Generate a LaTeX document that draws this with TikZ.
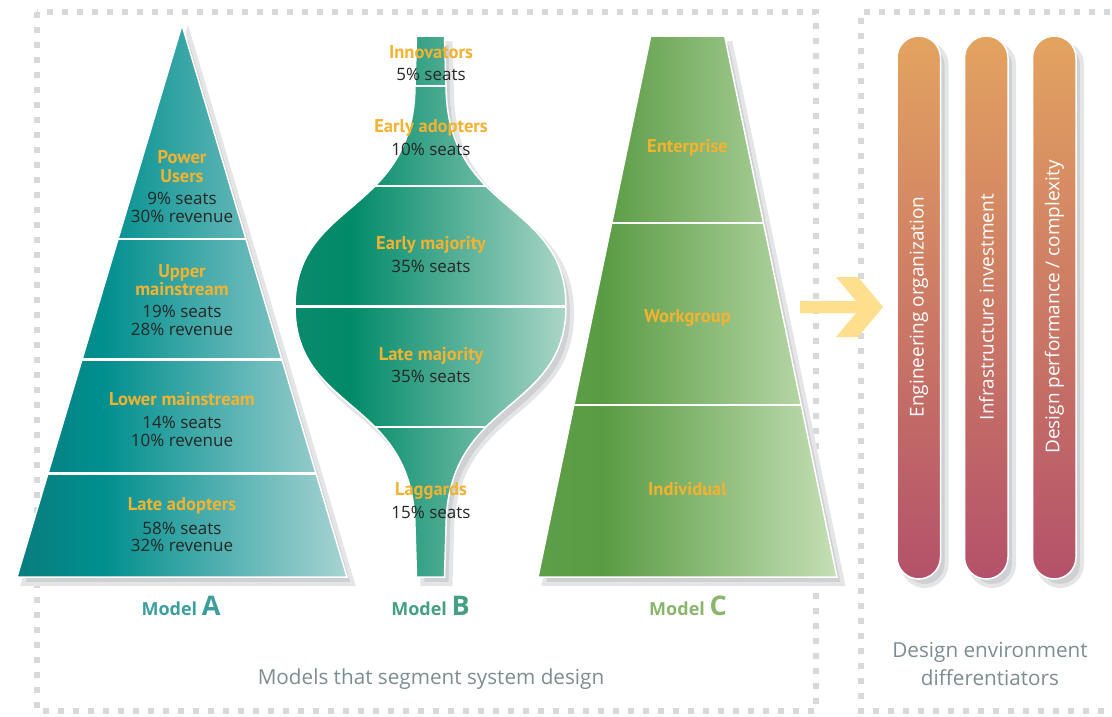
\documentclass[tikz,border=0pt]{standalone}
\usepackage{fontspec}
\setmainfont{PT Sans}
\newfontfamily\figfont{Open Sans}
\usetikzlibrary{calc}

\definecolor{dashgray}{HTML}{D6D8D9}
\definecolor{shadowgray}{HTML}{CED0D1}
\definecolor{labelgold}{HTML}{F4B231}
\definecolor{figtext}{HTML}{262626}
\definecolor{captiongray}{HTML}{7D8D92}
\definecolor{modelAc}{HTML}{3D9EA0}
\definecolor{modelBc}{HTML}{45A083}
\definecolor{modelCc}{HTML}{89B66C}
\definecolor{arrowyellow}{HTML}{FDDF8E}
\definecolor{pilltop}{HTML}{E3A360}
\definecolor{pillbottom}{HTML}{B4516A}
% gradient stops for the three models
\definecolor{tA1}{HTML}{0A7C7E}
\definecolor{tA2}{HTML}{008F8E}
\definecolor{tA3}{HTML}{A8D3D3}
\definecolor{tB1}{HTML}{0B8A6C}
\definecolor{tB2}{HTML}{008A68}
\definecolor{tB3}{HTML}{AAD5C6}
\definecolor{tC1}{HTML}{5D9E48}
\definecolor{tC2}{HTML}{5A9C44}
\definecolor{tC3}{HTML}{C5DFB5}

\pgfdeclarehorizontalshading{shadeA}{100bp}{color(0bp)=(tA1); color(25bp)=(tA1); color(38bp)=(tA2); color(75bp)=(tA3); color(100bp)=(tA3)}
\pgfdeclarehorizontalshading{shadeB}{100bp}{color(0bp)=(tB1); color(25bp)=(tB1); color(35bp)=(tB2); color(75bp)=(tB3); color(100bp)=(tB3)}
\pgfdeclarehorizontalshading{shadeC}{100bp}{color(0bp)=(tC1); color(25bp)=(tC1); color(36bp)=(tC2); color(75bp)=(tC3); color(100bp)=(tC3)}

% outlines of the three models
\newcommand\outlineA{(182,25) -- (347,577) -- (17,577) -- cycle}
\newcommand\outlineB{(416.5,36) -- (444.5,36) -- (446,86)
  .. controls (447,215) and (566,200) .. (566,306.5)
  .. controls (566,413) and (447,398) .. (446,527)
  -- (444.5,577) -- (416.5,577) -- (415,527)
  .. controls (414,398) and (295,413) .. (295,306.5)
  .. controls (295,200) and (414,215) .. (415,86) -- cycle}
\newcommand\outlineC{(650.7,36) -- (724.7,36) -- (837,577) -- (538,577) -- cycle}
\newcommand\pill[1]{(#1,36) rectangle ++(43.5,543)}

\tikzset{
  dashbox/.style={draw=dashgray, line width=5.5pt, dash pattern=on 6pt off 9pt},
  dropshadow/.style={fill=shadowgray, draw=shadowgray!55, line width=4pt},
  divider/.style={draw=white, line width=2.6pt},
  rim/.style={draw=white, line width=1.5pt},
  title/.style={anchor=base, inner sep=0pt, text=labelgold,
    font=\fontsize{18.5}{21}\selectfont\bfseries},
  figure/.style={anchor=base, inner sep=0pt, text=figtext,
    font=\figfont\fontsize{17}{18}\selectfont},
  modellabel/.style={anchor=base, inner sep=0pt, font=\figfont\bfseries},
  caption/.style={anchor=base, inner sep=0pt, text=captiongray,
    font=\figfont\fontsize{20.7}{24}\selectfont},
  pilltext/.style={rotate=90, inner sep=0pt, text=white,
    font=\figfont\fontsize{19}{22}\selectfont},
}

\begin{document}
\begin{tikzpicture}[x=1pt,y=-1pt]
\useasboundingbox (0,0) rectangle (1112,716);
\fill[white] (0,0) rectangle (1112,716);

% dotted frames
\draw[dashbox] (37,12) rectangle (816,711);
\draw[dashbox] (1125,12) -- (861,12) -- (861,711) -- (1125,711);

% ---------- Model A ----------
\path[dropshadow, shift={(6,7)}] \outlineA;
\path[shading=shadeA] \outlineA;
\begin{scope}
  \clip \outlineA;
  \draw[divider] (0,239) -- (400,239);
  \draw[divider] (0,359.5) -- (400,359.5);
  \draw[divider] (0,473.5) -- (400,473.5);
\end{scope}
\path[rim] \outlineA;

% ---------- Model B ----------
\path[dropshadow, shift={(6,7)}] \outlineB;
\path[shading=shadeB] \outlineB;
\begin{scope}
  \clip \outlineB;
  \draw[divider] (280,86) -- (600,86);
  \draw[divider] (280,186) -- (600,186);
  \draw[divider] (280,306.5) -- (600,306.5);
  \draw[divider] (280,427) -- (600,427);
\end{scope}
\path[rim] \outlineB;

% ---------- Model C ----------
\path[dropshadow, shift={(6,7)}] \outlineC;
\path[shading=shadeC] \outlineC;
\begin{scope}
  \clip \outlineC;
  \draw[divider] (520,223) -- (860,223);
  \draw[divider] (520,405) -- (860,405);
\end{scope}
\path[rim] \outlineC;

% ---------- differentiator bars ----------
\foreach \px in {897,964.5,1032.5}{
  \path[dropshadow, rounded corners=21.75pt, shift={(6,7)}] \pill{\px};
  \path[rounded corners=21.75pt, top color=pilltop, bottom color=pillbottom] \pill{\px};
  \path[rim, rounded corners=21.75pt] \pill{\px};
}

% ---------- arrow ----------
\fill[arrowyellow] (800,301) -- (856,301) -- (836,277) -- (858,277) -- (883,307)
  -- (858,337) -- (836,337) -- (856,313) -- (800,313) -- cycle;

% ---------- Model A texts ----------
\node[title]  (a1t1) at (182,163.3) {Power};
\node[title]  (a1t2) at (182,182.3) {Users};
\node[figure] (a1n1) at (182,204.7) {9\% seats};
\node[figure] (a1n2) at (182,222.7) {30\% revenue};
\node[title]  (a2t1) at (182,277.3) {Upper};
\node[title]  (a2t2) at (182,295.5) {mainstream};
\node[figure] (a2n1) at (182,317.3) {19\% seats};
\node[figure] (a2n2) at (182,335.3) {28\% revenue};
\node[title]  (a3t1) at (182,405) {Lower mainstream};
\node[figure] (a3n1) at (182,428.3) {14\% seats};
\node[figure] (a3n2) at (182,446) {10\% revenue};
\node[title]  (a4t1) at (182,510.7) {Late adopters};
\node[figure] (a4n1) at (182,534) {58\% seats};
\node[figure] (a4n2) at (182,551.7) {32\% revenue};

% ---------- Model B texts ----------
\node[title]  (b1t) at (431,58.3) {Innovators};
\node[figure] (b1n) at (431,80) {5\% seats};
\node[title]  (b2t) at (431,132.3) {Early adopters};
\node[figure] (b2n) at (431,155.7) {10\% seats};
\node[title]  (b3t) at (431,249.3) {Early majority};
\node[figure] (b3n) at (431,272.7) {35\% seats};
\node[title]  (b4t) at (431,360) {Late majority};
\node[figure] (b4n) at (431,382.7) {35\% seats};
\node[title]  (b5t) at (431,495) {Laggards};
\node[figure] (b5n) at (431,518.3) {15\% seats};

% ---------- Model C texts ----------
\node[title] (c1t) at (687.5,152.7) {Enterprise};
\node[title] (c2t) at (687.5,322) {Workgroup};
\node[title] (c3t) at (687.5,495) {Individual};

% ---------- model names ----------
\node[modellabel, text=modelAc] (mA) at (181,615)
  {\fontsize{18}{18}\selectfont Model \fontsize{27}{28}\selectfont A};
\node[modellabel, text=modelBc] (mB) at (430.5,615)
  {\fontsize{18}{18}\selectfont Model \fontsize{27}{28}\selectfont B};
\node[modellabel, text=modelCc] (mC) at (688,615)
  {\fontsize{18}{18}\selectfont Model \fontsize{27}{28}\selectfont C};

% ---------- bar labels ----------
\node[pilltext] (p1) at (919,307) {Engineering organization};
\node[pilltext] (p2) at (986.5,307) {Infrastructure investment};
\node[pilltext] (p3) at (1054.5,307) {Design performance / complexity};

% ---------- captions ----------
\node[caption] (capL) at (431,684) {Models that segment system design};
\node[caption] (capR1) at (990,657.3) {Design environment};
\node[caption] (capR2) at (990,685) {differentiators};
\end{tikzpicture}
\end{document}
